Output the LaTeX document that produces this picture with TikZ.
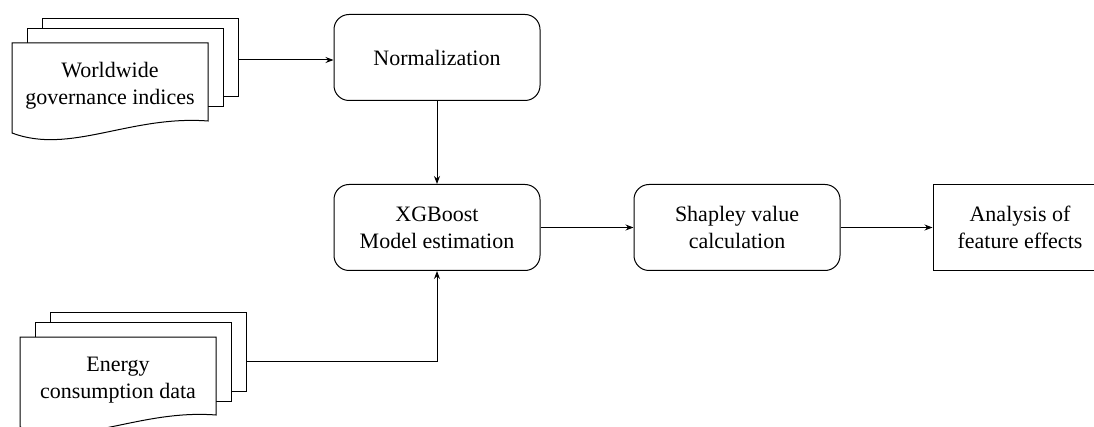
\documentclass[tikz,border=0pt]{standalone}
\usepackage{fontspec}
\setmainfont{Liberation Serif}
\usepackage{tikz}
\usetikzlibrary{arrows.meta,positioning}

\begin{document}
\begin{tikzpicture}[
        x=1pt, y=-1pt, line width=1pt,
        every node/.style={align=center, font=\fontsize{22}{27}\selectfont},
        process/.style={draw, rounded corners=15pt, minimum width=206pt, minimum height=86pt},
        result/.style={draw, minimum width=174pt, minimum height=86pt},
        arrow/.style={-{Stealth[length=8pt,width=6pt]}},
        sheet/.style={draw, fill=white},
        docstack/.pic={
            % two sheets behind
            \draw[sheet] (30,-24) rectangle (226,54);
            \draw[sheet] (15,-14) rectangle (211,64);
            % front sheet with wavy bottom
            \draw[sheet] (0,0) -- (196,0) -- (196,78)
                .. controls (118,72) and (58,112) .. (0,90) -- cycle;
            \node (-text) at (98,43) {#1};
            \coordinate (-out) at (226,17);
        }
    ]
    \clip (0,0) rectangle (1094,427);

    % Data Sources
    \pic (wgi) at (12,43) {docstack={Worldwide\\governance indices}};
    \pic (energy) at (20,337) {docstack={Energy\\consumption data}};

    % Processing Steps
    \node[process] (norm) at (437,57.5) {Normalization};
    \node[process, below=83pt of norm] (xgb) {XGBoost\\Model estimation};
    \node[process, right=93pt of xgb] (shap) {Shapley value\\calculation};
    \node[result, right=92pt of shap] (effects) {Analysis of\\feature effects};

    % Arrows
    \draw[arrow] (wgi-out) -- (wgi-out -| norm.west);
    \draw[arrow] (norm) -- (xgb);
    \draw[arrow] ([yshift=-7pt]energy-out) -| (xgb.south);
    \draw[arrow] (xgb) -- (shap);
    \draw[arrow] (shap) -- (effects);

\end{tikzpicture}
\end{document}
